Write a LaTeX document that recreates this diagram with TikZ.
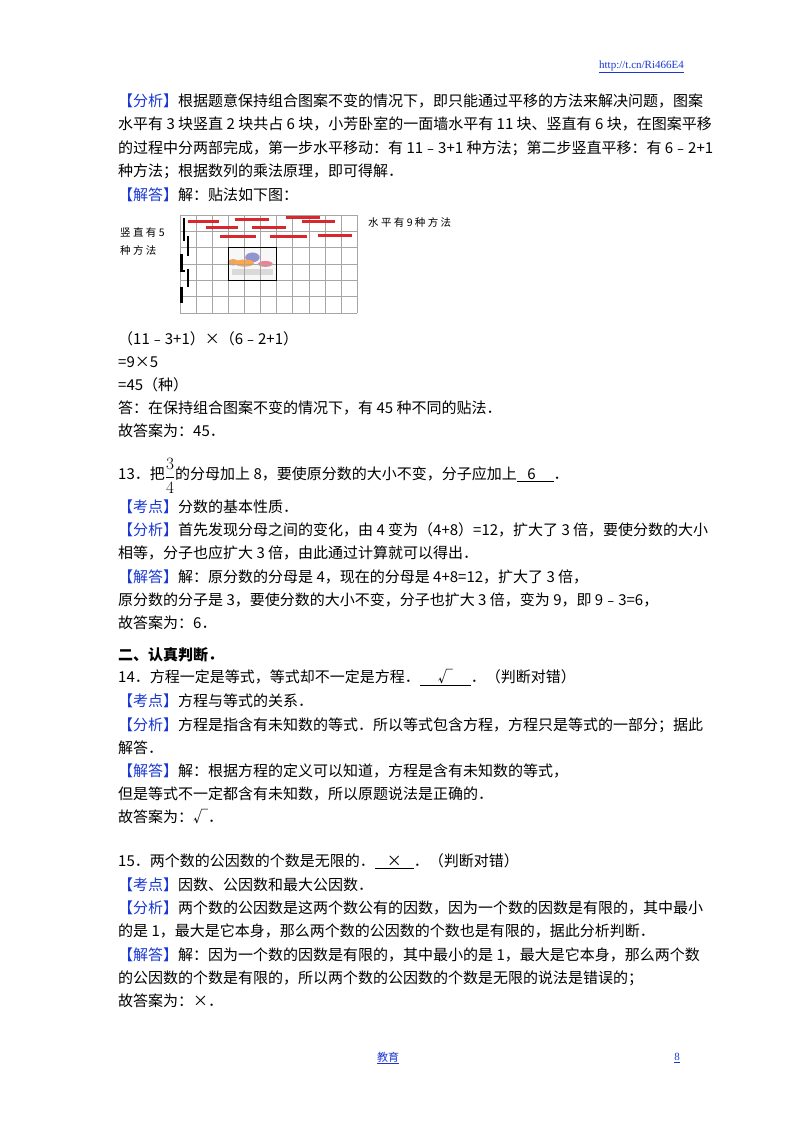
\documentclass[tikz,border=0pt]{standalone}
\usepackage{fontspec}
\setmainfont{Noto Sans CJK SC}
\newfontfamily\latf{Liberation Serif}
\definecolor{kblue}{RGB}{25,55,210}
\definecolor{kred}{RGB}{215,40,45}
\begin{document}
\begin{tikzpicture}[x=1pt,y=-1pt,
  ln/.style={anchor=west,inner sep=0pt,font=\fontsize{15}{15}\selectfont},
  hw/.style={anchor=west,inner sep=0pt,font=\fontsize{10.5}{10.5}\selectfont},
  redbar/.style={kred,line width=3pt},
  blkbar/.style={black,line width=2.5pt}]
\newcommand\tg[1]{\textcolor{kblue}{【#1】}}
\useasboundingbox (0,0) rectangle (800,1132);
\fill[white] (0,0) rectangle (800,1132);
\node[anchor=east,inner sep=0pt,font=\latf\fontsize{11}{11}\selectfont,text=kblue] (url) at (684,67) {\underline{http://t.cn/Ri466E4}};
% block 1
\node[ln] (l1) at (118,101) {\tg{分析}根据题意保持组合图案不变的情况下，即只能通过平移的方法来解决问题，图案};
\node[ln] (l2) at (118,124) {水平有 3 块竖直 2 块共占 6 块，小芳卧室的一面墙水平有 11 块、竖直有 6 块，在图案平移};
\node[ln] (l3) at (118,148) {的过程中分两部完成，第一步水平移动：有 11﹣3+1 种方法；第二步竖直平移：有 6﹣2+1};
\node[ln] (l4) at (118,171) {种方法；根据数列的乘法原理，即可得解．};
\node[ln] (l5) at (118,195) {\tg{解答}解：贴法如下图：};
% figure
\begin{scope}[shift={(180,215)},x=16.1pt,y=-16.3pt]
  \fill[gray!6] (3,2) rectangle (6,4);
  \fill[orange!60!brown!70] (3.3,2.9) ellipse (0.35 and 0.2);
  \fill[blue!40!gray!60] (4.5,2.6) ellipse (0.45 and 0.3);
  \fill[orange!70] (4.0,2.95) ellipse (0.6 and 0.22);
  \fill[red!50!purple!50] (5.3,3.0) ellipse (0.45 and 0.18);
  \fill[gray!30] (3.2,3.3) rectangle (5.8,3.7);
  \foreach \i in {0,...,11} \draw[gray!70,line width=0.6pt] (\i,0) -- (\i,6);
  \foreach \j in {0,...,6} \draw[gray!70,line width=0.6pt] (0,\j) -- (11,\j);
  \draw[black,line width=1.2pt] (3,2) rectangle (6,4);
  \foreach \a/\b/\y in {0.5/2.4/0.4,1.6/3.6/0.75,2.5/4.7/1.3,3.4/5.5/0.25,4.5/6.6/0.75,5.6/7.9/1.3,6.6/8.7/0.15,7.6/9.6/0.4,8.6/10.7/1.25}
    \draw[redbar] (\a,\y) -- (\b,\y);
  \foreach \xx/\a/\b in {0.25/0.2/1.6,0.5/1.3/2.5,0.1/2.4/3.5,0.5/3.3/4.4,0.1/4.4/5.4}
    \draw[blkbar] (\xx,\a) -- (\xx,\b);
  \draw[black,line width=1.5pt] (0.05,3.45) -- (0.3,3.45);
\end{scope}
\node[hw] (v1) at (120,232) {竖 直 有 5};
\node[hw] (v2) at (120,250) {种 方 法};
\node[hw] (h1) at (368,222) {水 平 有 9 种 方 法};
\node[ln] (m1) at (118,339) {（11﹣3+1）×（6﹣2+1）};
\node[ln] (m2) at (118,362) {=9×5};
\node[ln] (m3) at (118,385) {=45（种）};
\node[ln] (m4) at (118,408) {答：在保持组合图案不变的情况下，有 45 种不同的贴法．};
\node[ln] (m5) at (118,431) {故答案为：45．};
% Q13
\node[ln] (q13) at (118,476) {13．把\raisebox{-0.2ex}{\fontsize{17}{17}\selectfont$\displaystyle\frac{3}{4}$}的分母加上 8，要使原分数的大小不变，分子应加上\underline{\hspace{0.7em}6\hspace{1.2em}}．};
\node[ln] (a1) at (118,507) {\tg{考点}分数的基本性质．};
\node[ln] (a2) at (118,530) {\tg{分析}首先发现分母之间的变化，由 4 变为（4+8）=12，扩大了 3 倍，要使分数的大小};
\node[ln] (a3) at (118,553) {相等，分子也应扩大 3 倍，由此通过计算就可以得出．};
\node[ln] (a4) at (118,577) {\tg{解答}解：原分数的分母是 4，现在的分母是 4+8=12，扩大了 3 倍，};
\node[ln] (a5) at (118,600) {原分数的分子是 3，要使分数的大小不变，分子也扩大 3 倍，变为 9，即 9﹣3=6，};
\node[ln] (a6) at (118,623) {故答案为：6．};
% section 2
\node[ln,font=\fontsize{15}{15}\selectfont\bfseries] (s2) at (118,655) {二、认真判断．};
\node[ln] (q14) at (118,678) {14．方程一定是等式，等式却不一定是方程．\underline{\hspace{1.2em}√\hspace{1.2em}}．（判断对错）};
\node[ln] (b1) at (118,701) {\tg{考点}方程与等式的关系．};
\node[ln] (b2) at (118,725) {\tg{分析}方程是指含有未知数的等式．所以等式包含方程，方程只是等式的一部分；据此};
\node[ln] (b3) at (118,748) {解答．};
\node[ln] (b4) at (118,771) {\tg{解答}解：根据方程的定义可以知道，方程是含有未知数的等式，};
\node[ln] (b5) at (118,794) {但是等式不一定都含有未知数，所以原题说法是正确的．};
\node[ln] (b6) at (118,817) {故答案为：√．};
% Q15
\node[ln] (q15) at (118,861) {15．两个数的公因数的个数是无限的．\underline{\hspace{0.8em}×\hspace{0.8em}}．（判断对错）};
\node[ln] (c1) at (118,885) {\tg{考点}因数、公因数和最大公因数．};
\node[ln] (c2) at (118,908) {\tg{分析}两个数的公因数是这两个数公有的因数，因为一个数的因数是有限的，其中最小};
\node[ln] (c3) at (118,931) {的是 1，最大是它本身，那么两个数的公因数的个数也是有限的，据此分析判断．};
\node[ln] (c4) at (118,955) {\tg{解答}解：因为一个数的因数是有限的，其中最小的是 1，最大是它本身，那么两个数};
\node[ln] (c5) at (118,978) {的公因数的个数是有限的，所以两个数的公因数的个数是无限的说法是错误的；};
\node[ln] (c6) at (118,1001) {故答案为：×．};
% footer
\node[anchor=center,inner sep=0pt,font=\fontsize{11}{11}\selectfont,text=kblue] (ft) at (388,1058) {\underline{教育}};
\node[anchor=east,inner sep=0pt,font=\latf\fontsize{11}{11}\selectfont,text=kblue] (pg) at (680,1058) {\underline{8}};
\end{tikzpicture}
\end{document}
